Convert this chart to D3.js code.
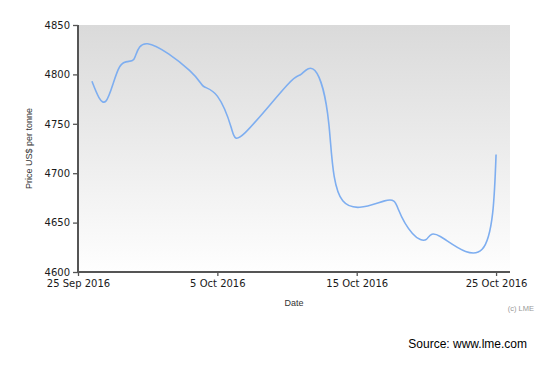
<!DOCTYPE html>
<html><head><meta charset="utf-8">
<script src="https://cdn.jsdelivr.net/npm/d3@7"></script>
<style>body{margin:0;background:#fff}svg{display:block}</style>
</head><body>
<script>
const dates = ["2016-09-26","2016-09-27","2016-09-28","2016-09-29","2016-09-30","2016-10-03","2016-10-04","2016-10-05","2016-10-06","2016-10-07","2016-10-10","2016-10-11","2016-10-12","2016-10-13","2016-10-14","2016-10-17","2016-10-18","2016-10-19","2016-10-20","2016-10-21","2016-10-24","2016-10-25"];
const prices = [4793,4773,4808,4815,4831,4804,4788,4778,4746,4741,4789,4800,4804,4750,4672,4672,4663,4639,4633,4636,4623,4719];
const yTicks = [4600,4650,4700,4750,4800,4850];
const xTickDates = ["2016-09-25","2016-10-05","2016-10-15","2016-10-25"];
const xTickLabels = ["25 Sep 2016","5 Oct 2016","15 Oct 2016","25 Oct 2016"];

const W=550,H=371;
const m={l:78,r:40,t:25,b:99};
const parse=d3.utcParse("%Y-%m-%d");
const svg=d3.select("body").append("svg").attr("width",W).attr("height",H);
const x=d3.scaleUtc().domain([parse("2016-09-25"),parse("2016-10-26")]).range([m.l,W-m.r]);
const y=d3.scaleLinear().domain([4600,4850]).range([H-m.b,m.t]);

const defs=svg.append("defs");
const g=defs.append("linearGradient").attr("id","bg").attr("x1",0).attr("y1",0).attr("x2",0).attr("y2",1);
g.append("stop").attr("offset","0%").attr("stop-color","#dadada");
g.append("stop").attr("offset","100%").attr("stop-color","#fefefe");
svg.append("rect").attr("x",m.l).attr("y",m.t).attr("width",W-m.r-m.l).attr("height",H-m.b-m.t).attr("fill","url(#bg)");

const data=dates.map((d,i)=>({d:parse(d),v:prices[i]}));
const line=d3.line().x(d=>x(d.d)).y(d=>y(d.v)).curve(d3.curveNatural);
svg.append("path").datum(data).attr("d",line).attr("fill","none").attr("stroke","#7eaef0").attr("stroke-width",1.6);

const ya=svg.append("g").attr("transform",`translate(${m.l},0)`)
  .call(d3.axisLeft(y).tickValues(yTicks).tickSize(5).tickPadding(3).tickFormat(d3.format("d")));
const xa=svg.append("g").attr("transform",`translate(0,${H-m.b})`)
  .call(d3.axisBottom(x).tickValues(xTickDates.map(parse)).tickSize(4).tickPadding(4).tickFormat((d,i)=>xTickLabels[i]));
[ya,xa].forEach(a=>{
  a.selectAll(".domain").attr("stroke","#555").attr("stroke-width",2);
  a.selectAll(".tick line").attr("stroke","#555").attr("stroke-width",1.3);
  a.selectAll("text").attr("fill","#1a1a1a").style("font-family","DejaVu Sans, sans-serif").style("font-size","10px");
});
ya.select(".domain").attr("d",`M0,${H-m.b+1}V${m.t}`);
xa.select(".domain").attr("d",`M${m.l},0H${W-m.r}`);

svg.append("text").attr("transform",`translate(32,${(m.t+H-m.b)/2}) rotate(-90)`).attr("text-anchor","middle")
  .style("font-family","Liberation Sans, Arial, sans-serif").style("font-size","9px").attr("fill","#333").text("Price US$ per tonne");
svg.append("text").attr("x",(m.l+W-m.r)/2).attr("y",306).attr("text-anchor","middle")
  .style("font-family","Liberation Sans, Arial, sans-serif").style("font-size","9px").attr("fill","#333").text("Date");
svg.append("text").attr("x",534).attr("y",311).attr("text-anchor","end")
  .style("font-family","Liberation Sans, Arial, sans-serif").style("font-size","7.5px").attr("fill","#999").text("(c) LME");
svg.append("text").attr("x",527).attr("y",348).attr("text-anchor","end")
  .style("font-family","Liberation Sans, Arial, sans-serif").style("font-size","12px").attr("fill","#000").text("Source: www.lme.com");
</script>
</body></html>
